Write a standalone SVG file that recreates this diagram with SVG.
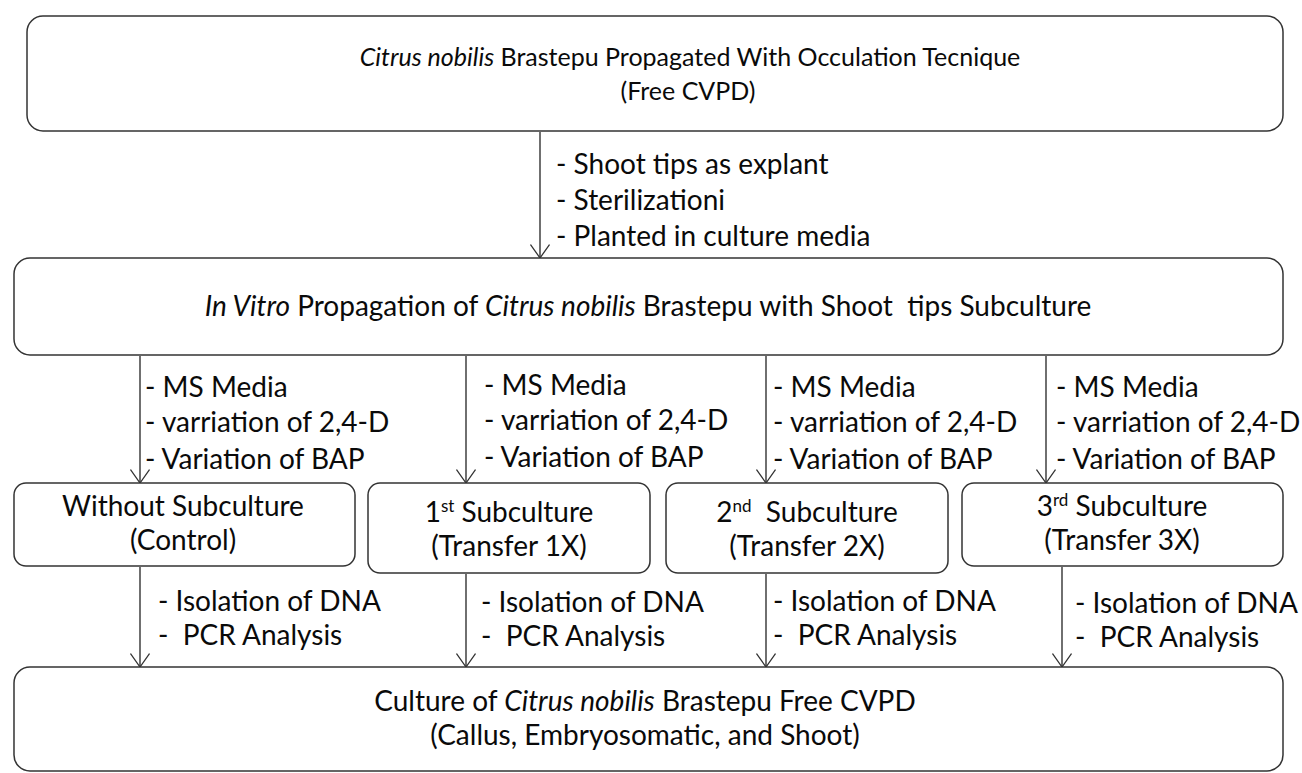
<svg xmlns="http://www.w3.org/2000/svg" width="1302" height="773" viewBox="0 0 1302 773">
  <style>
    .box { fill: #ffffff; stroke: #333333; stroke-width: 1.5; }
    .t { font-family: Lato, "Open Sans", sans-serif; font-size: 28px; fill: #0a0a0a; white-space: pre; }
    .s { font-size: 25px; }
    .c { text-anchor: middle; }
    .i { font-style: italic; }
    .sup { font-size: 17px; }
    .conn { stroke: #333333; stroke-width: 1.4; fill: none; marker-end: url(#head); }
  </style>
  <defs>
    <marker id="head" viewBox="0 0 15 20" refX="14" refY="10" markerWidth="15" markerHeight="20" markerUnits="userSpaceOnUse" orient="auto">
      <path d="M0.5,0.5 L14,10 L0.5,19.5" fill="none" stroke="#333333" stroke-width="1.3"/>
    </marker>
  </defs>
  <rect width="1302" height="773" fill="#ffffff"/>

  <!-- connectors -->
  <g id="connectors">
    <line class="conn" x1="540" y1="132" x2="540" y2="258"/>
    <line class="conn" x1="140" y1="356" x2="140" y2="483"/>
    <line class="conn" x1="466" y1="356" x2="466" y2="483"/>
    <line class="conn" x1="766" y1="356" x2="766" y2="483"/>
    <line class="conn" x1="1046" y1="356" x2="1046" y2="483"/>
    <line class="conn" x1="140" y1="567" x2="140" y2="667"/>
    <line class="conn" x1="466" y1="574" x2="466" y2="667"/>
    <line class="conn" x1="766" y1="574" x2="766" y2="667"/>
    <line class="conn" x1="1062" y1="567" x2="1062" y2="667"/>
  </g>

  <!-- connector labels -->
  <g id="labels">
    <text class="t" x="556" y="174">- Shoot tips as explant</text>
    <text class="t" x="556" y="210">- Sterilizationi</text>
    <text class="t" x="556" y="246">- Planted in culture media</text>

    <text class="t" x="145" y="397">- MS Media</text>
    <text class="t" x="145" y="432">- varriation of 2,4-D</text>
    <text class="t" x="145" y="469">- Variation of BAP</text>

    <text class="t" x="484" y="395">- MS Media</text>
    <text class="t" x="484" y="430">- varriation of 2,4-D</text>
    <text class="t" x="484" y="467">- Variation of BAP</text>

    <text class="t" x="773" y="397">- MS Media</text>
    <text class="t" x="773" y="432">- varriation of 2,4-D</text>
    <text class="t" x="773" y="469">- Variation of BAP</text>

    <text class="t" x="1056" y="397">- MS Media</text>
    <text class="t" x="1056" y="432">- varriation of 2,4-D</text>
    <text class="t" x="1056" y="469">- Variation of BAP</text>

    <text class="t" x="158" y="611">- Isolation of DNA</text>
    <text class="t" x="158" y="645">-  PCR Analysis</text>

    <text class="t" x="481" y="612">- Isolation of DNA</text>
    <text class="t" x="481" y="646">-  PCR Analysis</text>

    <text class="t" x="773" y="611">- Isolation of DNA</text>
    <text class="t" x="773" y="645">-  PCR Analysis</text>

    <text class="t" x="1075" y="613">- Isolation of DNA</text>
    <text class="t" x="1075" y="647">-  PCR Analysis</text>
  </g>

  <!-- nodes -->
  <g id="node-source">
    <rect class="box" x="27" y="16" width="1256" height="115" rx="16"/>
    <text class="t s c" x="690" y="66"><tspan class="i">Citrus nobilis</tspan> Brastepu Propagated With Occulation Tecnique</text>
    <text class="t s c" x="688" y="100">(Free CVPD)</text>
  </g>

  <g id="node-invitro">
    <rect class="box" x="14" y="258" width="1269" height="97" rx="16"/>
    <text class="t c" x="648" y="316"><tspan class="i">In Vitro</tspan> Propagation of <tspan class="i">Citrus nobilis</tspan> Brastepu with Shoot  tips Subculture</text>
  </g>

  <g id="node-control">
    <rect class="box" x="14" y="483" width="341" height="83" rx="12"/>
    <text class="t c" x="183" y="516">Without Subculture</text>
    <text class="t c" x="183" y="550">(Control)</text>
  </g>

  <g id="node-sub1">
    <rect class="box" x="368" y="483" width="282" height="90" rx="12"/>
    <text class="t c" x="509" y="522">1<tspan class="sup" dy="-10">st</tspan><tspan dy="10"> Subculture</tspan></text>
    <text class="t c" x="509" y="556">(Transfer 1X)</text>
  </g>

  <g id="node-sub2">
    <rect class="box" x="666" y="483" width="282" height="90" rx="12"/>
    <text class="t c" x="807" y="522">2<tspan class="sup" dy="-10">nd</tspan><tspan dy="10">  Subculture</tspan></text>
    <text class="t c" x="807" y="556">(Transfer 2X)</text>
  </g>

  <g id="node-sub3">
    <rect class="box" x="962" y="483" width="321" height="83" rx="12"/>
    <text class="t c" x="1122" y="516">3<tspan class="sup" dy="-10">rd</tspan><tspan dy="10"> Subculture</tspan></text>
    <text class="t c" x="1122" y="550">(Transfer 3X)</text>
  </g>

  <g id="node-result">
    <rect class="box" x="14" y="667" width="1269" height="104" rx="16"/>
    <text class="t c" x="645" y="711">Culture of <tspan class="i">Citrus nobilis</tspan> Brastepu Free CVPD</text>
    <text class="t c" x="645" y="745">(Callus, Embryosomatic, and Shoot)</text>
  </g>
</svg>
